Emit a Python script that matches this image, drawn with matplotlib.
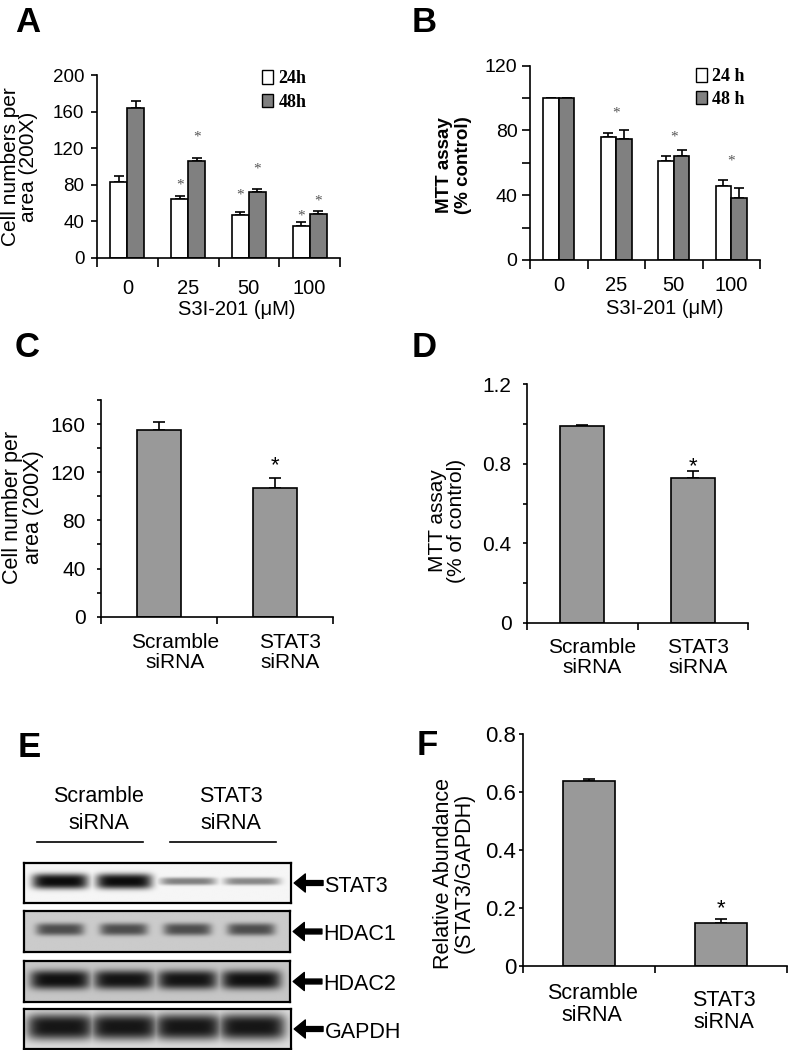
import numpy as np
import matplotlib
matplotlib.use('Agg')
import matplotlib.pyplot as plt
from matplotlib.patches import Patch
from matplotlib.lines import Line2D
from matplotlib.transforms import ScaledTranslation, offset_copy

plt.rcParams['font.family'] = ['Liberation Sans', 'DejaVu Sans']

# ---------------- data ----------------
doses = ['0', '25', '50', '100']
a_24 = [83, 64, 47, 35]
a_24_err = [6, 4, 3, 4]
a_48 = [164, 106, 71.5, 48]
a_48_err = [7, 3.5, 4, 3]
a_star_24 = [None, 85, 74, 51]
a_star_48 = [None, 137, 102, 67]

b_24 = [100, 76, 61, 46]
b_24_err = [0, 2.5, 3, 3.3]
b_48 = [100, 75, 64, 38.5]
b_48_err = [0, 5, 4, 5.7]
b_star = [None, 93.6, 78.6, 64.2]

sirna = ['Scramble\nsiRNA', 'STAT3\nsiRNA']
c_vals = [155, 107]
c_err = [6.7, 7.8]
c_star = [None, 131]
d_vals = [0.99, 0.73]
d_err = [0.007, 0.034]
d_star = [None, 0.82]
f_vals = [0.639, 0.148]
f_err = [0.008, 0.014]
f_star = [None, 0.222]

blot_labels = ['STAT3', 'HDAC1', 'HDAC2', 'GAPDH']
blot_darkness = [[0.95, 0.95, 0.48, 0.45],
                 [0.62, 0.62, 0.62, 0.62],
                 [0.92, 0.90, 0.90, 0.92],
                 [0.90, 0.90, 0.90, 0.90]]
blot_background = [246, 203, 198, 222]

W, H = 788, 1050
fig = plt.figure(figsize=(W / 100, H / 100), dpi=100)


def rect(l, t, r, b):
    return [l / W, 1 - b / H, (r - l) / W, (b - t) / H]


def style_axes(ax):
    for s in ['top', 'right']:
        ax.spines[s].set_visible(False)
    for s in ['left', 'bottom']:
        ax.spines[s].set_linewidth(1.2)


def cat_axis(ax, labels, fs, pad_pt, tick_len, dxs=None, dys=None, ls=1.1):
    n = len(labels)
    ax.set_xlim(-0.5, n - 0.5)
    ax.set_xticks(np.arange(n + 1) - 0.5)
    ax.set_xticklabels([])
    ax.set_xticks(np.arange(n), minor=True)
    ax.set_xticklabels(labels, minor=True, fontsize=fs, linespacing=ls)
    ax.tick_params(axis='x', which='minor', length=0, pad=pad_pt)
    ax.tick_params(axis='x', which='major', length=tick_len, width=1.2, direction='out')
    if dxs is not None:
        for lab, dx, dy in zip(ax.get_xticklabels(minor=True), dxs, dys):
            lab.set_transform(lab.get_transform() +
                              ScaledTranslation(dx / 100, -dy / 100, fig.dpi_scale_trans))


def star(ax, x, y, fs, color='black', family=None, center=0.57):
    tr = offset_copy(ax.transData, fig=fig, y=-center * fs, units='points')
    kw = {}
    if family:
        kw['family'] = family
    ax.text(x, y, '*', transform=tr, ha='center', va='baseline', fontsize=fs,
            color=color, **kw)


def panel_label(txt, x, y):
    fig.text(x / W, 1 - y / H, txt, fontsize=25, fontweight='bold',
             ha='left', va='baseline')


# ---------------- Panel A ----------------
axA = fig.add_axes(rect(97, 75, 340, 257.7))
style_axes(axA)
x = np.arange(len(doses))
bw = 0.28
axA.bar(x - bw / 2, a_24, bw, color='white', edgecolor='black', lw=1.2, zorder=2)
axA.bar(x + bw / 2, a_48, bw, color='#808080', edgecolor='black', lw=1.2, zorder=2)
axA.errorbar(x - bw / 2, a_24, yerr=[np.zeros(4), a_24_err], fmt='none',
             ecolor='black', elinewidth=1.2, capsize=3.5, capthick=1.2, zorder=1)
axA.errorbar(x + bw / 2, a_48, yerr=[np.zeros(4), a_48_err], fmt='none',
             ecolor='black', elinewidth=1.2, capsize=3.5, capthick=1.2, zorder=1)
for i in range(len(doses)):
    if a_star_24[i] is not None:
        star(axA, x[i] - bw / 2, a_star_24[i], 11, '#555555', 'Liberation Serif', 0.53)
    if a_star_48[i] is not None:
        star(axA, x[i] + bw / 2, a_star_48[i], 11, '#555555', 'Liberation Serif', 0.53)
axA.set_ylim(0, 200)
axA.set_yticks(np.arange(0, 201, 40))
axA.tick_params(axis='y', labelsize=13.5, length=4, width=1.2, pad=5)
cat_axis(axA, doses, 14.5, 15, 6.5)
axA.set_ylabel('Cell numbers per\narea (200X)', fontsize=15, va='center', linespacing=0.95)
axA.yaxis.set_label_coords(-0.32, 0.496)
axA.set_xlabel('S3I-201 (\u03bcM)', fontsize=14.5, va='center')
axA.xaxis.set_label_coords(0.576, -0.281)
legA = axA.legend(handles=[Patch(facecolor='white', edgecolor='black', lw=1),
                           Patch(facecolor='#808080', edgecolor='black', lw=1)],
                  labels=['24h', '48h'], loc='upper left', bbox_to_anchor=(0.642, 1.075),
                  frameon=False, borderpad=0, handlelength=0.6, handleheight=0.75,
                  handletextpad=0.3, labelspacing=0.35,
                  prop={'family': 'Liberation Serif', 'weight': 'bold', 'size': 13})

# ---------------- Panel B ----------------
axB = fig.add_axes(rect(530, 65.7, 760, 260))
style_axes(axB)
bw = 0.27
axB.bar(x - bw / 2, b_24, bw, color='white', edgecolor='black', lw=1.2, zorder=2)
axB.bar(x + bw / 2, b_48, bw, color='#808080', edgecolor='black', lw=1.2, zorder=2)
axB.errorbar(x - bw / 2, b_24, yerr=[np.zeros(4), b_24_err], fmt='none',
             ecolor='black', elinewidth=1.2, capsize=3.5, capthick=1.2, zorder=1)
axB.errorbar(x + bw / 2, b_48, yerr=[np.zeros(4), b_48_err], fmt='none',
             ecolor='black', elinewidth=1.2, capsize=3.5, capthick=1.2, zorder=1)
for i in range(len(doses)):
    if b_star[i] is not None:
        star(axB, x[i], b_star[i], 11, '#555555', 'Liberation Serif', 0.53)
axB.set_ylim(0, 120)
axB.set_yticks(np.arange(0, 121, 20))
axB.set_yticklabels([str(v) if v % 40 == 0 else '' for v in range(0, 121, 20)])
axB.tick_params(axis='y', labelsize=14, length=6, width=1.2, pad=3)
cat_axis(axB, doses, 14.5, 11.5, 6.5)
axB.set_ylabel('MTT assay\n(% control)', fontsize=13.5, fontweight='bold', va='center',
               linespacing=1.2)
axB.yaxis.set_label_coords(-0.33, 0.49)
axB.set_xlabel('S3I-201 (\u03bcM)', fontsize=14.5, va='center')
axB.xaxis.set_label_coords(0.587, -0.252)
legB = axB.legend(handles=[Patch(facecolor='white', edgecolor='black', lw=1),
                           Patch(facecolor='#808080', edgecolor='black', lw=1)],
                  labels=['24 h', '48 h'], loc='upper left', bbox_to_anchor=(0.683, 1.035),
                  frameon=False, borderpad=0, handlelength=0.6, handleheight=0.8,
                  handletextpad=0.3, labelspacing=0.3,
                  prop={'family': 'Liberation Serif', 'weight': 'bold', 'size': 13})

# ---------------- Panel C ----------------
axC = fig.add_axes(rect(101, 400, 333, 616.7))
style_axes(axC)
xc = np.arange(len(sirna))
axC.bar(xc, c_vals, 0.38, color='#999999', edgecolor='black', lw=1.2, zorder=2)
axC.errorbar(xc, c_vals, yerr=[np.zeros(2), c_err], fmt='none', ecolor='black',
             elinewidth=1.2, capsize=4, capthick=1.2, zorder=1)
for i in range(2):
    if c_star[i] is not None:
        star(axC, xc[i], c_star[i], 16)
axC.set_ylim(0, 180)
axC.set_yticks(np.arange(0, 181, 20))
axC.set_yticklabels([str(v) if v % 40 == 0 else '' for v in range(0, 181, 20)])
axC.tick_params(axis='y', labelsize=15, length=3, width=1.2, pad=8)
cat_axis(axC, sirna, 15, 11.5, 5, dxs=[16, 15], dys=[0, 0], ls=1.1)
axC.set_ylabel('Cell number per\narea (200X)', fontsize=15.5, va='center', linespacing=1.0)
axC.yaxis.set_label_coords(-0.336, 0.506)

# ---------------- Panel D ----------------
axD = fig.add_axes(rect(527, 384.3, 748, 622.7))
style_axes(axD)
axD.bar(xc, d_vals, 0.40, color='#999999', edgecolor='black', lw=1.2, zorder=2)
axD.errorbar(xc, d_vals, yerr=[np.zeros(2), d_err], fmt='none', ecolor='black',
             elinewidth=1.2, capsize=4, capthick=1.2, zorder=1)
for i in range(2):
    if d_star[i] is not None:
        star(axD, xc[i], d_star[i], 16)
axD.set_ylim(0, 1.2)
dt = np.round(np.arange(0, 1.21, 0.2), 1)
axD.set_yticks(dt)
axD.set_yticklabels(['0' if v == 0 else (f'{v:.1f}' if round(v * 10) % 4 == 0 else '')
                     for v in dt])
axD.tick_params(axis='y', labelsize=15, length=3, width=1.2, pad=8)
cat_axis(axD, sirna, 15, 11, 5, dxs=[10, 5], dys=[0, 0], ls=1.1)
axD.set_ylabel('MTT assay\n(% of control)', fontsize=15, va='center', linespacing=1.0)
axD.yaxis.set_label_coords(-0.36, 0.427)

# ---------------- Panel E (western blot) ----------------
strip_rects = [(24, 863, 291, 903), (24, 911, 290, 952), (24, 961, 290, 1002),
               (24, 1009, 291, 1049)]
lanes = [0.135, 0.375, 0.615, 0.855]
band_w = [0.21, 0.18, 0.225, 0.25]
band_h = [0.38, 0.30, 0.46, 0.64]
band_y = [0.47, 0.46, 0.47, 0.46]
xx = np.linspace(0, 1, 400)[None, :]
yy = np.linspace(0, 1, 60)[:, None]
for k, (name, dark, bg) in enumerate(zip(blot_labels, blot_darkness, blot_background)):
    axs = fig.add_axes(rect(*strip_rects[k]))
    dk = np.zeros((60, 400))
    for lc, d in zip(lanes, dark):
        bh = band_h[k] * (1.0 if d > 0.55 else 0.5)
        px = np.exp(-np.abs((xx - lc) / (band_w[k] / 2)) ** 6)
        py = np.exp(-np.abs((yy - band_y[k]) / (bh / 2)) ** 3)
        dk = np.maximum(dk, d * px * py)
    img = bg * (1 - dk)
    axs.imshow(img, cmap='gray', vmin=0, vmax=255, aspect='auto',
               extent=(0, 1, 1, 0), interpolation='bilinear')
    axs.set_xticks([])
    axs.set_yticks([])
    for s in axs.spines.values():
        s.set_linewidth(1.6)
    axs.annotate('', xy=(1.012, 0.5), xycoords='axes fraction', xytext=(1.12, 0.5),
                 textcoords='axes fraction',
                 arrowprops=dict(facecolor='black', edgecolor='black', width=3.5,
                                 headwidth=13, headlength=8, shrink=0),
                 annotation_clip=False)
    axs.text(1.125, 0.42, name, transform=axs.transAxes, ha='left', va='center',
             fontsize=15.5)

fig.text(99 / W, 1 - 786 / H, 'Scramble\nsiRNA', ha='center', va='top', fontsize=15.5,
         linespacing=1.4)
fig.text(231 / W, 1 - 786 / H, 'STAT3\nsiRNA', ha='center', va='top', fontsize=15.5,
         linespacing=1.4)
fig.add_artist(Line2D([37 / W, 143 / W], [1 - 842 / H, 1 - 842 / H], color='black', lw=1.2))
fig.add_artist(Line2D([170 / W, 276 / W], [1 - 842 / H, 1 - 842 / H], color='black', lw=1.2))

# ---------------- Panel F ----------------
axF = fig.add_axes(rect(523, 734.3, 787, 966))
style_axes(axF)
axF.bar(xc, f_vals, 0.40, color='#999999', edgecolor='black', lw=1.2, zorder=2)
axF.errorbar(xc, f_vals, yerr=[np.zeros(2), f_err], fmt='none', ecolor='black',
             elinewidth=1.2, capsize=4, capthick=1.2, zorder=1)
for i in range(2):
    if f_star[i] is not None:
        star(axF, xc[i], f_star[i], 16)
axF.set_ylim(0, 0.8)
ft = np.round(np.arange(0, 0.81, 0.2), 1)
axF.set_yticks(ft)
axF.set_yticklabels(['0' if v == 0 else f'{v:.1f}' for v in ft])
axF.tick_params(axis='y', labelsize=16, length=3, width=1.2, pad=2)
cat_axis(axF, sirna, 15.5, 12, 5, dxs=[3, 3], dys=[0, 7], ls=1.1)
axF.set_ylabel('Relative Abundance\n(STAT3/GAPDH)', fontsize=15.5, va='center',
               linespacing=0.95)
axF.yaxis.set_label_coords(-0.262, 0.40)

# ---------------- panel letters ----------------
panel_label('A', 15, 32)
panel_label('B', 412, 32)
panel_label('C', 15, 357)
panel_label('D', 412, 357)
panel_label('E', 18, 757)
panel_label('F', 417, 755)

fig.savefig('out.png', dpi=100, facecolor='white')
